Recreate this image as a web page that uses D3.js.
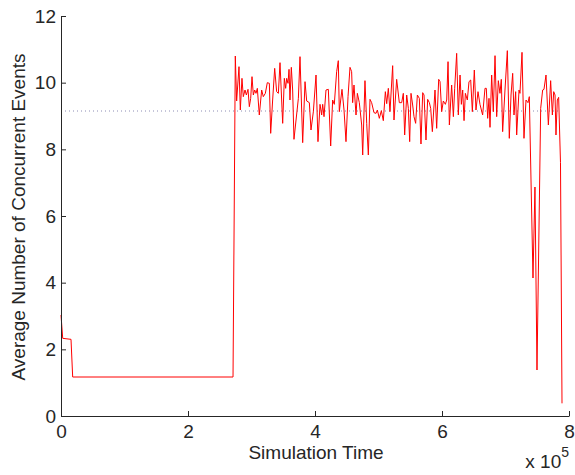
<!DOCTYPE html>
<html>
<head>
<meta charset="utf-8">
<script src="https://cdn.jsdelivr.net/npm/d3@7"></script>
<style>
  html, body { margin: 0; padding: 0; background: #fff; }
  svg { display: block; }
  text { font-family: "Liberation Sans", Arial, Helvetica, sans-serif; fill: #262626; }
</style>
</head>
<body>
<svg id="chart" width="575" height="475"></svg>
<script>
// ---- data ----
const simTime = [
  0, 2700, 15750, 18400, 270900, 274500,
  276600, 280300, 282400, 285000, 287100, 289800, 291900, 294500, 296600, 298700,
  300800, 302900, 305000, 307100, 309200, 312300, 316000, 318600, 321800, 324900,
  328100, 330200, 333300, 336500, 339600, 342300, 344900, 349100, 351700, 353800,
  355400, 357500, 359100, 360600, 362700, 364800, 366900, 373800, 376400, 380600,
  384300, 386900, 391100, 393700, 397400, 401600, 404700, 407900, 410500, 412100,
  414200, 417300, 421000, 424700, 427800, 430400, 434100, 436700, 438300, 442500,
  445700, 448800, 452000, 455100, 457700, 459300, 461400, 464600, 466700, 469800,
  473500, 475100, 478700, 481400, 484000, 486600, 489200, 492900, 496100, 498200,
  501300, 504500, 507600, 510800, 512900, 515500, 518100,
  522300, 524400, 528600, 532800, 536500, 539100, 541200, 544400, 547000, 549100,
  551200, 553800, 555900, 558500, 561200, 564300, 566900, 569600, 571700, 574800,
  577400, 580100, 582200, 584800, 589000, 591600, 594800, 596900, 599500, 602100,
  605300, 607400, 609500, 611600, 615200, 617900, 620000, 623100, 625700, 628400,
  630500, 632600, 634700, 636800, 639900, 642500, 645200, 647800, 650900, 653500,
  656700, 659800, 664000, 667700, 669800, 671900, 674000, 675600, 678200, 680800,
  683500, 686100, 688700, 691300, 693400, 695500, 699200, 702900, 706000, 708700,
  711300, 713400, 716000, 717600, 721300, 722800, 726000, 729100, 732300, 735400,
  737500, 743300, 746400, 749600, 755400, 758500, 760600, 763800, 767500, 771100,
  773800, 775900, 778000, 779500, 781600, 783700, 786600, 789000
];
const avgEvents = [
  3.03, 2.33, 2.30, 1.17, 1.17, 10.80,
  9.45, 10.48, 9.18, 10.13, 9.58, 9.78, 9.63, 9.80, 9.28, 9.53,
  10.18, 9.63, 9.78, 9.68, 9.83, 9.03, 9.78, 9.58, 9.68, 10.00,
  9.98, 8.48, 9.48, 10.43, 9.73, 9.68, 10.60, 8.78, 10.13, 9.83,
  10.13, 9.98, 10.40, 9.48, 10.46, 9.78, 8.30, 9.53, 10.78, 8.20,
  10.03, 9.45, 9.40, 8.58, 9.13, 10.23, 8.23, 9.35, 9.03, 9.35,
  8.98, 9.78, 9.80, 8.10, 9.48, 9.35, 10.33, 10.66, 9.13, 9.80,
  9.18, 8.23, 9.58, 10.46, 10.33, 9.40, 9.93, 9.03, 9.68, 9.40,
  8.73, 7.83, 10.06, 8.78, 7.83, 9.50, 9.40, 9.10, 9.08, 9.18,
  8.93, 9.16, 8.86, 9.73, 9.37, 9.83, 9.13,
  10.51, 8.88, 10.10, 9.40, 9.40, 9.68, 8.43, 9.63, 9.23, 8.23,
  9.68, 9.33, 8.98, 8.78, 9.63, 9.53, 8.16, 9.70, 9.63, 8.28,
  9.50, 9.40, 9.23, 8.53, 9.78, 8.63, 10.10, 10.03, 9.13, 9.45,
  9.35, 9.48, 10.63, 8.73, 9.93, 8.98, 9.83, 10.88, 9.03, 10.23,
  9.35, 9.78, 8.86, 9.68, 9.48, 10.03, 10.08, 9.13, 10.38, 9.18,
  9.73, 9.35, 9.03, 9.83, 9.83, 8.93, 9.53, 8.66, 10.23, 9.13,
  10.81, 8.98, 10.06, 9.68, 10.10, 8.53, 9.78, 10.96, 8.33, 9.63,
  10.28, 9.03, 9.73, 8.43, 9.78, 9.68, 10.91, 8.33, 9.48, 9.40,
  9.58, 4.14, 6.87, 1.38, 9.23, 9.78, 9.80, 10.23, 8.73, 10.06,
  9.03, 9.73, 9.63, 8.43, 9.48, 9.56, 7.60, 0.38
];
const meanLevel = 9.15;
const meanSpan = [0, 783700];
const xTickValues = [0, 200000, 400000, 600000, 800000];
const yTickValues = [0, 2, 4, 6, 8, 10, 12];
const xLabel = "Simulation Time";
const yLabel = "Average Number of Concurrent Events";

// ---- chart ----
const svg = d3.select("#chart");
const x = d3.scaleLinear().domain([0, 800000]).range([61, 569]);
const y = d3.scaleLinear().domain([0, 12]).range([416, 16]);

// mean dotted line
svg.append("line")
  .attr("x1", x(meanSpan[0])).attr("x2", x(meanSpan[1]))
  .attr("y1", y(meanLevel)).attr("y2", y(meanLevel))
  .attr("stroke", "#8c8cb4").attr("stroke-width", 1)
  .attr("stroke-dasharray", "1,3");

// series line
const pts = simTime.map((t, i) => [t, avgEvents[i]]);
svg.append("path")
  .datum(pts)
  .attr("fill", "none")
  .attr("stroke", "#ff0000")
  .attr("stroke-width", 1)
  .attr("stroke-linejoin", "round")
  .attr("d", d3.line().x(d => x(d[0])).y(d => y(d[1])));

// axes
const xAxis = svg.append("g")
  .attr("transform", "translate(0,416)")
  .call(d3.axisBottom(x).tickValues(xTickValues)
    .tickFormat(d => d / 1e5).tickSizeInner(-5).tickSizeOuter(0).tickPadding(9));
const yAxis = svg.append("g")
  .attr("transform", "translate(61,0)")
  .call(d3.axisLeft(y).tickValues(yTickValues)
    .tickSizeInner(-5).tickSizeOuter(0).tickPadding(5));

[xAxis, yAxis].forEach(g => {
  g.selectAll("path,line").attr("stroke", "#262626").attr("stroke-width", 1);
  g.selectAll("text").attr("font-size", 19).attr("fill", "#262626")
    .attr("font-family", '"Liberation Sans", Arial, sans-serif');
});

// axis labels
svg.append("text")
  .attr("x", 316).attr("y", 459)
  .attr("text-anchor", "middle")
  .attr("font-size", 19)
  .text(xLabel);

svg.append("text")
  .attr("transform", "translate(25,217) rotate(-90)")
  .attr("text-anchor", "middle")
  .attr("font-size", 19)
  .text(yLabel);

// exponent label
const expo = svg.append("text")
  .attr("x", 569).attr("y", 468)
  .attr("text-anchor", "end")
  .attr("font-size", 19);
expo.append("tspan").text("x 10");
expo.append("tspan").attr("dy", -11).attr("font-size", 14).text("5");
</script>
</body>
</html>
